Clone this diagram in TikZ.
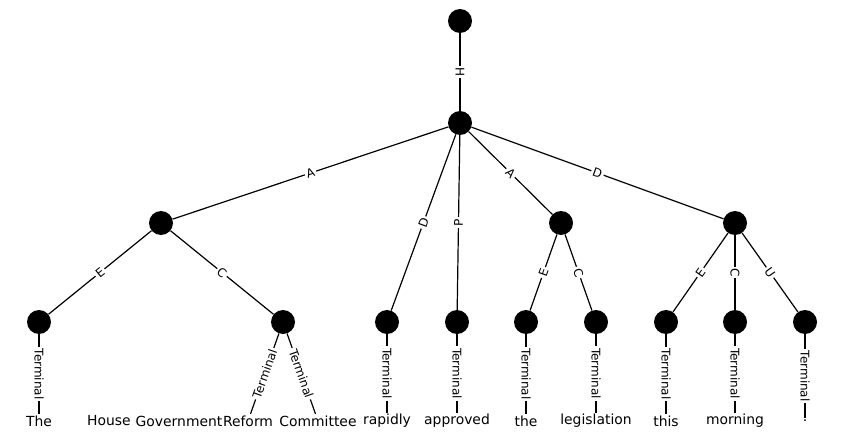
\documentclass[tikz,border=0pt]{standalone}
\usepackage{fontspec}
\setmainfont{DejaVu Sans}
\begin{document}
\begin{tikzpicture}[x=1pt,y=-1pt,
  dot/.style={circle,fill=black,draw=none,minimum size=24pt,inner sep=0pt},
  word/.style={fill=white,inner sep=1.5pt,font=\fontsize{13.9}{16}\selectfont},
  edge/.style={line width=1.2pt},
  elab/.style={midway,sloped,fill=white,inner sep=1.8pt,font=\fontsize{12}{14}\selectfont}]
\useasboundingbox (0,0) rectangle (844,444);
% nodes
\node[dot] (r) at (460,21) {};
\node[dot] (s) at (460,123) {};
\node[dot] (a1) at (161,223) {};
\node[dot] (a2) at (561,223) {};
\node[dot] (a3) at (735,223) {};
\node[dot] (l1) at (39,322) {};
\node[dot] (l2) at (283,322) {};
\node[dot] (l3) at (387,322) {};
\node[dot] (l4) at (457,322) {};
\node[dot] (l5) at (526,322) {};
\node[dot] (l6) at (596,322) {};
\node[dot] (l7) at (666,322) {};
\node[dot] (l8) at (735,322) {};
\node[dot] (l9) at (805,322) {};
% words
\node[word] (w1) at (39,421) {The};
\node[word] (w2) at (109,421) {House};
\node[word] (w3) at (179,421) {Government};
\node[word] (w4) at (248,421) {Reform};
\node[word] (w5) at (318,421) {Committee};
\node[word] (w6) at (387,421) {rapidly};
\node[word] (w7) at (457,421) {approved};
\node[word] (w8) at (526,421) {the};
\node[word] (w9) at (596,421) {legislation};
\node[word] (w10) at (666,421) {this};
\node[word] (w11) at (735,421) {morning};
\node[word] (w12) at (805,421) {.};
% edges
\draw[edge] (r) -- node[elab] {H} (s);
\draw[edge] (s) -- node[elab] {A} (a1);
\draw[edge] (s) -- node[elab] {D} (l3);
\draw[edge] (s) -- node[elab] {P} (l4);
\draw[edge] (s) -- node[elab] {A} (a2);
\draw[edge] (s) -- node[elab] {D} (a3);
\draw[edge] (a1) -- node[elab] {E} (l1);
\draw[edge] (a1) -- node[elab] {C} (l2);
\draw[edge] (a2) -- node[elab] {E} (l5);
\draw[edge] (a2) -- node[elab] {C} (l6);
\draw[edge] (a3) -- node[elab] {E} (l7);
\draw[edge] (a3) -- node[elab] {C} (l8);
\draw[edge] (a3) -- node[elab] {U} (l9);
\draw[edge] (l1) -- node[elab] {Terminal} (w1);
\draw[edge] (l2) -- node[elab] {Terminal} (w4);
\draw[edge] (l2) -- node[elab] {Terminal} (w5);
\draw[edge] (l3) -- node[elab] {Terminal} (w6);
\draw[edge] (l4) -- node[elab] {Terminal} (w7);
\draw[edge] (l5) -- node[elab] {Terminal} (w8);
\draw[edge] (l6) -- node[elab] {Terminal} (w9);
\draw[edge] (l7) -- node[elab] {Terminal} (w10);
\draw[edge] (l8) -- node[elab] {Terminal} (w11);
\draw[edge] (l9) -- node[elab] {Terminal} (w12);
\end{tikzpicture}
\end{document}
